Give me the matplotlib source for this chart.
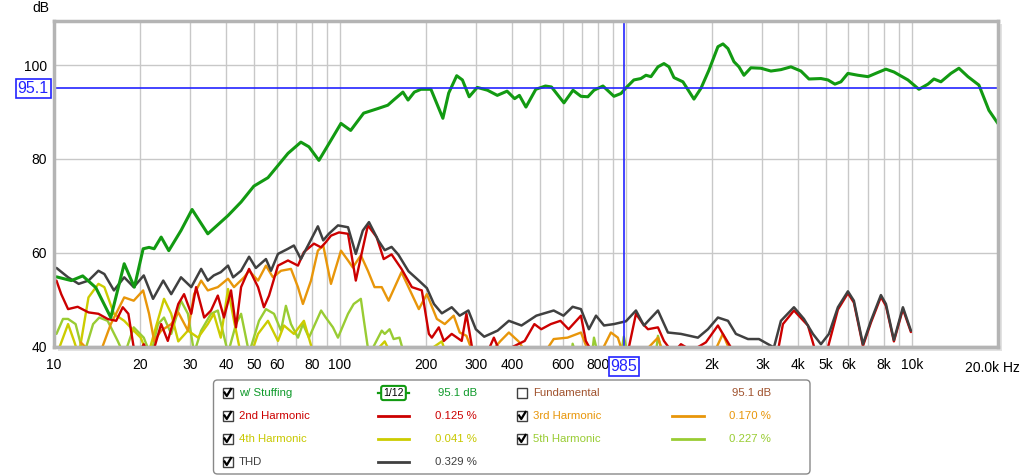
import numpy as np
import matplotlib.pyplot as plt
import matplotlib.transforms as mtransforms
from matplotlib.patches import Rectangle, FancyBboxPatch
from matplotlib.ticker import NullFormatter

plt.rcParams['font.family'] = ['Liberation Sans', 'DejaVu Sans']

# ---- data (Hz, dB) ----
freq_fund = [10.2, 11.5, 12.6, 14.0, 15.8, 17.6, 19.1, 20.5, 21.5, 22.4, 23.7, 25.2, 27.8, 30.4, 34.5,
             40.6, 45.1, 50, 56, 60.7, 65.8, 73, 77.9, 84.4, 93, 100.8, 109, 121, 136, 147, 154, 166,
             173, 182, 192, 208, 229, 240, 256, 268, 283, 302, 328, 355, 384, 408, 424, 447, 484, 523,
             549, 607, 653, 696, 736, 773, 831, 908, 961, 1000, 1066, 1128, 1175, 1223, 1294, 1358,
             1414, 1472, 1582, 1729, 1829, 1951, 2097, 2184, 2274, 2386, 2484, 2586, 2735, 2965, 3213,
             3483, 3775, 4091, 4365, 4807, 5085, 5380, 5646, 5973, 6476, 7020, 7605, 8112, 8651, 9683,
             10580, 11380, 11940, 12630, 13690, 14600, 15700, 17150, 18590, 19980]
db_fund = [54.8, 54.0, 55.0, 52.5, 46.1, 57.6, 52.6, 60.8, 61.1, 60.8, 63.3, 60.4, 64.7, 69.2, 64.0,
           67.9, 70.8, 74.2, 76.0, 78.6, 81.2, 83.6, 82.6, 79.7, 84.0, 87.6, 86.1, 89.8, 90.8, 91.5, 92.6,
           94.3, 92.6, 94.3, 94.9, 94.9, 88.7, 94.1, 97.8, 96.9, 93.3, 95.3, 94.7, 93.6, 94.5, 92.9, 93.6,
           91.1, 94.9, 95.6, 95.4, 92.0, 94.7, 93.4, 93.3, 94.7, 95.6, 93.4, 94.0, 95.2, 96.9, 97.2, 97.9,
           97.6, 99.7, 100.4, 99.7, 97.4, 96.5, 92.8, 95.1, 99.0, 104.0, 104.6, 103.6, 100.8, 99.7, 97.9,
           99.5, 99.4, 98.8, 99.1, 99.7, 98.8, 97.1, 97.2, 96.9, 96.0, 96.5, 98.3, 97.9, 97.6, 98.5, 99.2,
           98.6, 96.9, 94.9, 96.0, 97.1, 96.5, 98.3, 99.4, 97.6, 95.8, 90.4, 87.6]

freq_thd = [10.2, 11.2, 12.2, 13.2, 14.3, 15.0, 16.2, 17.6, 19.0, 20.6, 22.2, 24.1, 25.7, 27.8, 30.2,
            32.7, 34.5, 36.2, 38.3, 40.6, 42.3, 45.1, 48.1, 50.8, 55.1, 57.4, 60.7, 65.8, 69.0, 73.0,
            77.3, 83.7, 87.4, 91.4, 98.4, 106.7, 113.6, 120.2, 126.3, 136.4, 143.4, 151.5, 160.2, 173.6,
            188.7, 201.3, 213.1, 227.1, 245.9, 262.2, 281.2, 298.6, 319.4, 355.7, 389.6, 431.3, 486.1,
            558.9, 604.7, 651, 696, 742, 786, 838, 908, 1000, 1084, 1156, 1294, 1402, 1557, 1785, 1935,
            2097, 2274, 2424, 2671, 2918, 3292, 3483, 3868, 4192, 4506, 4807, 5126, 5511, 5973, 6266,
            6742, 7188, 7791, 8112, 8650, 9301, 9920]
db_thd = [56.7, 54.7, 53.3, 54.0, 56.1, 55.4, 51.9, 54.7, 52.6, 55.1, 50.1, 54.0, 51.1, 54.7, 52.6,
          56.5, 54.0, 55.1, 55.8, 57.2, 54.7, 56.1, 59.1, 56.7, 58.6, 56.1, 59.7, 60.8, 61.5, 58.6,
          61.5, 65.6, 62.6, 64.0, 65.8, 65.4, 59.7, 64.7, 66.5, 62.5, 60.5, 61.2, 59.5, 56.0,
          54.0, 52.4, 49.0, 47.0, 48.3, 46.5, 47.6, 43.6, 42.0, 43.3, 45.4, 44.4, 46.5,
          47.6, 46.5, 48.4, 47.9, 43.6, 46.5, 44.4, 44.7, 45.3, 47.6, 44.4, 47.6, 42.9, 42.6, 41.8, 43.6,
          46.1, 45.4, 42.6, 41.5, 41.5, 39.7, 45.4, 48.3, 45.8, 42.6, 40.4, 42.6, 48.3, 51.7, 49.7,
          40.4, 45.4, 50.9, 49.0, 41.3, 48.3, 43.3]

freq_h2 = [10.2, 10.6, 11.2, 12.1, 13.2, 14.3, 15.4, 16.5, 17.4, 18.2, 19.0, 19.8, 20.6, 21.8, 23.7,
           25.0, 27.2, 28.5, 30.2, 31.4, 33.5, 35.4, 37.4, 39.3, 41.6, 43.3, 45.1, 48.1, 51.7, 54.2,
           56.5, 60.7, 65.8, 71.3, 74.8, 81.1, 85.9, 89.2, 93.0, 99.2, 106.7, 113.6, 118.3, 125.2,
           134.3, 142.2, 151.5, 164.1, 178.4, 193.3, 204.6, 209.6, 221.6, 230.8, 245.9, 266.5, 276.8,
           291.8, 319, 345.3, 364, 407, 442.6, 478.4, 505.6, 546, 590, 630, 696, 724, 773, 886, 1018,
           1084, 1147, 1194, 1294, 1358, 1460, 1557, 1700, 1904, 2097, 2182, 2329, 2620, 3213, 3400,
           3540, 3868, 4192, 4329, 4617, 5085, 5511, 5973, 6266, 6742, 7188, 7791, 8112, 8650, 9301, 9920]
db_h2 = [54.0, 51.1, 47.9, 48.4, 47.2, 46.9, 45.8, 45.4, 48.3, 46.9, 39.7, 38.5, 40.4, 37.0, 44.7,
         41.1, 49.0, 51.1, 46.9, 52.6, 46.1, 47.6, 50.8, 46.1, 51.9, 44.0, 52.6, 56.5, 52.6, 48.3,
         50.8, 57.2, 58.3, 57.2, 60.1, 61.9, 61.1, 62.2, 63.6, 64.3, 64.0, 54.0, 59.0, 65.8,
         63.3, 58.6, 59.6, 56.5, 52.6, 51.9, 42.6, 41.8, 44.0, 41.1, 42.6, 41.1, 46.9,
         38.5, 37.0, 41.8, 38.5, 40.0, 41.1, 44.7, 43.6, 44.7, 45.4, 43.6, 46.5, 41.1, 38.0, 37.0, 39.0,
         46.9, 44.7, 43.6, 44.0, 41.1, 38.5, 40.4, 39.0, 40.8, 44.4, 42.6, 39.7, 38.0, 37.0, 39.0,
         44.7, 47.6, 45.3, 44.4, 38.5, 39.7, 47.8, 51.3, 49.3, 40.0, 45.0, 50.5, 48.6, 41.0, 47.9, 43.0]

freq_h3 = [12.4, 13.5, 14.6, 15.8, 17.6, 19.0, 20.5, 21.5, 22.4, 23.7, 25.7, 27.2, 29.4, 30.9, 32.7,
           34.5, 37.4, 40.6, 42.6, 46.2, 48.1, 51.7, 55.1, 58.3, 62.2, 67.4, 71.3, 74.2, 79.2, 83.7,
           87.4, 93.0, 100.8, 106.7, 110.9, 118.3, 125.2, 132.1, 140.0, 147.9, 164.1, 173.6, 188.7,
           201.3, 218.2, 232.5, 249.9, 262.2, 276.8, 291.8, 324, 364.4, 389.6, 421.1, 449, 505.6,
           558.9, 624.6, 696, 742, 808, 886, 937, 975, 1128, 1294, 1347, 1700, 2031, 2182, 2329, 2620]
db_h3 = [40.8, 38.5, 39.0, 44.7, 50.4, 49.7, 51.9, 46.9, 41.1, 43.3, 44.7, 47.2, 43.3, 51.1, 54.0,
         51.9, 52.6, 54.4, 52.6, 54.7, 56.1, 54.0, 57.2, 54.7, 56.1, 56.5, 52.6, 49.0, 54.0, 60.4,
         61.5, 53.3, 60.4, 58.3, 56.8, 59.4, 56.1, 52.6, 52.6, 49.7, 55.8, 52.6, 47.9,
         51.1, 45.8, 44.7, 46.5, 42.9, 42.2, 38.5, 37.5, 41.1, 42.9, 41.0, 38.5, 37.5,
         41.5, 41.8, 42.9, 38.5, 38.0, 42.9, 41.8, 38.5, 38.0, 41.8, 38.5, 37.0, 38.5, 42.6, 38.5, 37.0]

freq_h4 = [10.2, 11.2, 11.75, 12.2, 13.2, 14.3, 15.0, 16.2, 17.6, 19.0, 20.1, 21.3, 22.7, 24.25, 25.7,
           27.2, 29.4, 31.9, 34.5, 36.2, 38.3, 40.6, 42.6, 45.1, 49, 51.7, 56.0, 60.7, 63.7, 69.0,
           74.8, 81.1, 93, 105, 129, 143.4, 151.5, 193, 227, 236]
db_h4 = [38.0, 44.7, 41.1, 38.0, 50.4, 53.3, 52.6, 46.9, 45.4, 43.3, 41.8, 38.0, 44.0, 50.1, 46.9,
         41.0, 43.3, 41.8, 44.7, 46.9, 41.8, 52.2, 45.4, 38.0, 38.5, 42.6, 45.4, 41.1, 44.4, 42.6,
         45.4, 38.0, 38.0, 39.0, 38.0, 41.0, 38.0, 38.0, 41.0, 38.0]

freq_h5 = [10.2, 10.75, 11.2, 11.9, 12.7, 13.7, 14.4, 15.4, 16.7, 17.6, 19.0, 20.6, 21.8, 23.1, 24.25,
           25.7, 27.8, 29.4, 30.9, 32.7, 35.4, 37.4, 40.6, 43.3, 45.1, 48.1, 52.1, 55.1, 58.8, 62.2,
           64.7, 67.4, 71.3, 74.2, 77.9, 85.9, 89.2, 94.5, 98.4, 106.7, 111.7, 118.3, 121.3, 126.3,
           140.0, 143.4, 149.1, 154, 161.5, 168, 645, 651, 670, 760, 773, 800, 961, 983, 1018, 1270,
           1294, 1347]
db_h5 = [42.6, 45.8, 45.8, 44.7, 38.0, 44.7, 46.1, 45.4, 41.1, 38.0, 44.0, 41.8, 38.0, 44.7, 46.1,
         42.6, 49.7, 46.9, 38.5, 43.3, 46.9, 47.6, 38.5, 44.7, 46.9, 38.5, 45.4, 47.9, 46.9, 43.3,
         48.6, 44.7, 41.8, 44.7, 41.8, 47.6, 46.1, 44.0, 41.8, 46.9, 49.0, 50.1, 45.4, 38.0,
         43.3, 42.6, 43.6, 41.5, 41.8, 38.0, 38.0, 40.5, 38.0, 38.0, 41.8, 38.0, 38.0, 42.0, 38.0, 38.0,
         42.2, 38.0]

cursor_freq = 985
cursor_db = 95.1

tick_freqs = [10, 20, 30, 40, 50, 60, 80, 100, 200, 300, 400, 600, 800,
              2000, 3000, 4000, 5000, 6000, 8000, 10000]
tick_labels = ['10', '20', '30', '40', '50', '60', '80', '100', '200', '300', '400', '600', '800',
               '2k', '3k', '4k', '5k', '6k', '8k', '10k']
grid_freqs = [m * d for d in (10, 100, 1000) for m in range(2, 10)] + [100, 1000, 10000]

c_fund = '#129A12'
c_h2 = '#CC0000'
c_h3 = '#E8960A'
c_h4 = '#CCCC00'
c_h5 = '#99CC33'
c_thd = '#404040'
c_cursor = '#2424FF'

legend_names = [['w/ Stuffing', '2nd Harmonic', '4th Harmonic', 'THD'],
                ['Fundamental', '3rd Harmonic', '5th Harmonic']]
legend_colors = [[c_fund, c_h2, c_h4, c_thd], ['#A0522D', c_h3, c_h5]]
legend_text_colors = [['#0F9A2A', c_h2, '#C8C800', '#404040'], ['#A0522D', c_h3, c_h5]]
legend_values = [['95.1 dB', '0.125 %', '0.041 %', '0.329 %'], ['95.1 dB', '0.170 %', '0.227 %']]

# ---- figure ----
fig = plt.figure(figsize=(10.24, 4.76), dpi=100)

ov = fig.add_axes([0, 0, 1, 1])
ov.set_xlim(0, 1024)
ov.set_ylim(476, 0)
ov.axis('off')
ov.set_zorder(0)

ax = fig.add_axes([54 / 1024, 1 - 347 / 476, 944 / 1024, 326 / 476])
ax.set_zorder(1)
ax.set_xscale('log')
ax.set_xlim(10, 20000)
ax.set_ylim(39.8, 109.5)

ax.set_xticks(grid_freqs, minor=True)
ax.xaxis.set_minor_formatter(NullFormatter())
ax.set_xticks(tick_freqs)
ax.set_xticklabels(tick_labels)
ax.set_yticks([40, 60, 80, 100])
ax.grid(True, which='both', color='#C8C8C8', lw=1)
ax.set_axisbelow(True)
ax.tick_params(which='both', length=0)
ax.tick_params(axis='x', pad=8, labelsize=10)
ax.tick_params(axis='y', pad=5, labelsize=10)
for s in ax.spines.values():
    s.set_color('#B4B4B4')
    s.set_linewidth(2.5)

# frame shadow
ov.add_patch(Rectangle((58, 24), 944, 327, fc='#E2E2E2', ec='none'))

kw = dict(solid_joinstyle='round', solid_capstyle='round')
ax.plot(freq_h5, db_h5, color=c_h5, lw=1.7, **kw)
ax.plot(freq_h4, db_h4, color=c_h4, lw=1.7, **kw)
ax.plot(freq_h3, db_h3, color=c_h3, lw=1.7, **kw)
ax.plot(freq_h2, db_h2, color=c_h2, lw=1.7, **kw)
ax.plot(freq_thd, db_thd, color=c_thd, lw=1.8, **kw)
ax.plot(freq_fund, db_fund, color=c_fund, lw=2.2, **kw)

# cursor
ax.axvline(cursor_freq, color=c_cursor, lw=1.2)
ax.axhline(cursor_db, color=c_cursor, lw=1.2)
tx = mtransforms.blended_transform_factory(ax.transData, ax.transAxes)
ty = mtransforms.blended_transform_factory(ax.transAxes, ax.transData)
ax.text(cursor_freq, -0.061, '%d' % cursor_freq, transform=tx, ha='center', va='center',
        color=c_cursor, fontsize=11.5, clip_on=False,
        bbox=dict(boxstyle='square,pad=0.12', fc='white', ec=c_cursor, lw=1.2))
ax.text(-0.0222, cursor_db, '%.1f' % cursor_db, transform=ty, ha='center', va='center',
        color=c_cursor, fontsize=11.5, clip_on=False,
        bbox=dict(boxstyle='square,pad=0.12', fc='white', ec=c_cursor, lw=1.2))

ov.text(510, 38, '1/12 octave smoothing', ha='center', va='center', color='#858585',
        fontsize=19.5, fontweight='bold')
ov.text(41, 8, 'dB', ha='center', va='center', fontsize=10)
ov.text(1020, 368, '20.0k Hz', ha='right', va='center', fontsize=10)

# legend panel
ov.add_patch(FancyBboxPatch((213.5, 380), 596.5, 94, boxstyle='round,pad=0,rounding_size=4',
                            fc='white', ec='#888888', lw=1))
rows = [393, 416, 439, 462]
cols = [dict(box=222.5, label=239, line=(378, 409), value=476.7),
        dict(box=517, label=533.3, line=(672, 704), value=770.7)]
for ci, col in enumerate(cols):
    for ri, name in enumerate(legend_names[ci]):
        y = rows[ri]
        checked = not (ci == 1 and ri == 0)
        ov.add_patch(Rectangle((col['box'], y - 5), 10, 10, fc='white', ec='#404040', lw=1))
        if checked:
            ov.plot([col['box'] + 2, col['box'] + 4.3, col['box'] + 8.5], [y - 0.5, y + 3, y - 4],
                    color='black', lw=1.6)
        ov.text(col['label'], y, name, color=legend_text_colors[ci][ri], fontsize=8.2, va='center')
        ov.text(col['value'], y, legend_values[ci][ri], color=legend_text_colors[ci][ri],
                fontsize=8.2, va='center', ha='right')
        if ci == 0 and ri == 0:
            ov.plot(col['line'], [y, y], color=legend_colors[ci][ri], lw=1.6)
            ov.text((col['line'][0] + col['line'][1]) / 2, y, '1/12', ha='center', va='center',
                    fontsize=7.5, color='black',
                    bbox=dict(boxstyle='round,pad=0.2', fc='white', ec=c_fund, lw=1.5))
        elif not (ci == 1 and ri == 0):
            ov.plot(col['line'], [y, y], color=legend_colors[ci][ri], lw=2)

fig.savefig('out.png', dpi=100)
